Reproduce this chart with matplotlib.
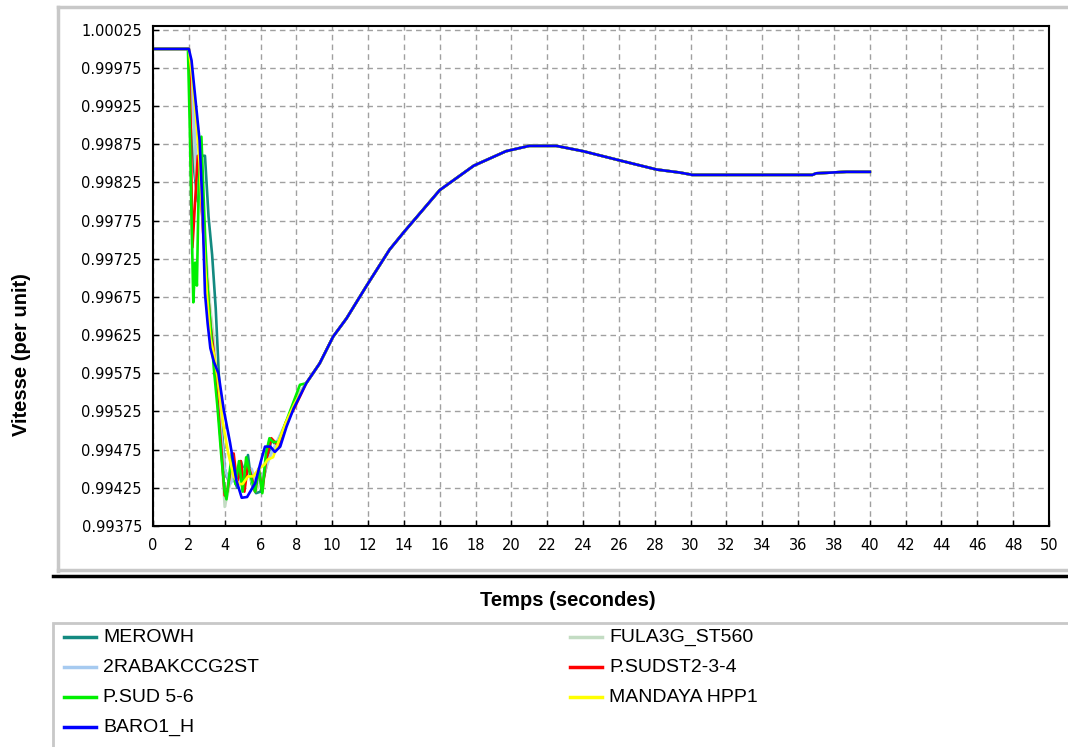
import matplotlib
matplotlib.use("Agg")
import matplotlib.pyplot as plt
from matplotlib.lines import Line2D
from matplotlib.patches import Rectangle

W, H = 1068, 747

# shared tail, all machines follow the same trajectory after ~8.5 s
tail_t = [8.55, 9.3, 10.05, 10.8, 11.9, 13.2, 14.0, 16.0, 17.9, 19.7, 21.0, 22.5, 24.0,
          26.2, 28.1, 29.4, 30.1, 33.0, 36.8, 37.0, 38.7, 40.0]
tail_v = [0.99562, 0.99588, 0.99623, 0.99647, 0.99689, 0.99737, 0.99760, 0.99815, 0.99847,
          0.99866, 0.99873, 0.99873, 0.99866, 0.99853, 0.99842, 0.99838, 0.99835, 0.99835,
          0.99835, 0.99837, 0.99839, 0.99839]

# first seconds of each machine
merowh_t = [0, 2.0, 2.1, 2.3, 2.5, 2.7, 2.9, 3.1, 3.3, 3.5, 3.7, 3.85, 4.0, 4.2, 4.45, 4.7,
            4.9, 5.1, 5.3, 5.5, 5.75, 6.0, 6.3, 6.6, 6.9, 7.4, 7.9]
merowh_v = [1.0, 1.0, 0.9993, 0.9984, 0.9980, 0.9986, 0.9986, 0.9978, 0.9973, 0.9966, 0.9956,
            0.9950, 0.9945, 0.99435, 0.9944, 0.99425, 0.9946, 0.99445, 0.99468, 0.9943,
            0.99418, 0.9942, 0.9945, 0.99488, 0.9948, 0.99505, 0.99535]

fula_t = [0, 2.0, 2.2, 2.4, 2.6, 2.8, 3.0, 3.2, 3.4, 3.6, 3.8, 4.0, 4.2, 4.5, 4.8, 5.1, 5.4,
          5.7, 6.0, 6.3, 6.6, 7.0, 7.4, 7.9]
fula_v = [1.0, 1.0, 0.9992, 0.9983, 0.9980, 0.9978, 0.9972, 0.9966, 0.9962, 0.9955, 0.9948,
          0.9940, 0.9942, 0.9945, 0.9943, 0.9945, 0.9944, 0.9942, 0.9943, 0.9945, 0.9947,
          0.9948, 0.9951, 0.99535]

rabak_t = [0, 2.0, 2.2, 2.4, 2.6, 2.8, 3.0, 3.2, 3.4, 3.6, 3.8, 4.0, 4.3, 4.6, 4.9, 5.2, 5.5,
           5.8, 6.1, 6.4, 6.8, 7.2, 7.6, 8.0]
rabak_v = [1.0, 1.0, 0.9994, 0.9986, 0.9982, 0.9977, 0.9970, 0.9964, 0.9960, 0.9956, 0.9950,
           0.9945, 0.9943, 0.9944, 0.9943, 0.9944, 0.9945, 0.9943, 0.9944, 0.9946, 0.9948,
           0.9950, 0.9952, 0.99545]

psudst_t = [0, 2.0, 2.1, 2.2, 2.35, 2.5, 2.65, 2.8, 3.0, 3.2, 3.4, 3.6, 3.8, 4.0, 4.15, 4.3,
            4.5, 4.7, 4.9, 5.1, 5.3, 5.5, 5.7, 5.9, 6.1, 6.3, 6.6, 7.0, 7.4, 7.9]
psudst_v = [1.0, 1.0, 0.9990, 0.9974, 0.9980, 0.9986, 0.9982, 0.9976, 0.9970, 0.9964, 0.9960,
            0.9954, 0.9948, 0.99415, 0.9942, 0.99445, 0.9947, 0.9943, 0.9946, 0.9942, 0.99455,
            0.9944, 0.9942, 0.9945, 0.9942, 0.9946, 0.9949, 0.9948, 0.9951, 0.9953]

psud56_t = [0, 1.95, 2.05, 2.15, 2.25, 2.35, 2.45, 2.55, 2.7, 2.85, 3.0, 3.2, 3.4, 3.6, 3.8,
            4.0, 4.1, 4.25, 4.4, 4.6, 4.8, 5.0, 5.2, 5.45, 5.7, 5.9, 6.1, 6.3, 6.5, 6.7, 7.0,
            7.4, 7.8, 8.2]
psud56_v = [1.0, 1.0, 0.9990, 0.9978, 0.99668, 0.9972, 0.9969, 0.9982, 0.99885, 0.9979,
            0.9970, 0.9964, 0.9958, 0.9953, 0.9947, 0.9942, 0.9941, 0.9944, 0.9947, 0.9943,
            0.9946, 0.9942, 0.99465, 0.9944, 0.9942, 0.9945, 0.99418, 0.9947, 0.9949, 0.99485,
            0.99485, 0.9951, 0.99535, 0.9956]

mandaya_t = [0, 2.0, 2.2, 2.4, 2.6, 2.8, 3.0, 3.2, 3.4, 3.6, 3.9, 4.2, 4.5, 4.8, 5.0, 5.3,
             5.6, 5.9, 6.2, 6.4, 6.7, 7.0, 7.4, 7.9]
mandaya_v = [1.0, 1.0, 0.9996, 0.9991, 0.9985, 0.9976, 0.9968, 0.9962, 0.9960, 0.9957, 0.9951,
             0.9947, 0.9944, 0.9943, 0.9943, 0.9944, 0.9944, 0.9945, 0.99455, 0.99462,
             0.99465, 0.99485, 0.9951, 0.99535]

baro_t = [0, 2.0, 2.15, 2.3, 2.45, 2.6, 2.75, 2.9, 3.05, 3.2, 3.4, 3.65, 3.95, 4.3, 4.65,
          4.95, 5.25, 5.7, 6.0, 6.25, 6.55, 6.8, 7.1, 7.45, 7.85]
baro_v = [1.0, 1.0, 0.99985, 0.9995, 0.99915, 0.9988, 0.9980, 0.9968, 0.9964, 0.99608,
          0.9959, 0.99575, 0.99527, 0.99484, 0.99435, 0.99412, 0.99413, 0.99431, 0.99458,
          0.99479, 0.99479, 0.99472, 0.99479, 0.99505, 0.99529]

names = ["MEROWH", "FULA3G_ST560", "2RABAKCCG2ST", "P.SUDST2-3-4", "P.SUD 5-6",
         "MANDAYA HPP1", "BARO1_H"]
colors = ["#138a80", "#c3dcc3", "#a6caf0", "#ff0000", "#00f000", "#ffff00", "#0000ff"]
heads = [(merowh_t, merowh_v), (fula_t, fula_v), (rabak_t, rabak_v), (psudst_t, psudst_v),
         (psud56_t, psud56_v), (mandaya_t, mandaya_v), (baro_t, baro_v)]

plt.rcParams['font.family'] = ['Liberation Sans', 'DejaVu Sans']

fig = plt.figure(figsize=(W / 100, H / 100), dpi=100)
fig.patch.set_facecolor("white")


def px(x, y):
    return x / W, 1 - y / H


# panel border (gray top/left, black bottom)
fig.add_artist(Line2D([px(58, 0)[0], px(W, 0)[0]], [px(0, 7)[1]] * 2, color="#c8c8c8", lw=2.5))
fig.add_artist(Line2D([px(58, 0)[0]] * 2, [px(0, 7)[1], px(0, 571)[1]], color="#c8c8c8", lw=2.5))
fig.add_artist(Line2D([px(58, 0)[0], px(W, 0)[0]], [px(0, 570)[1]] * 2, color="#c8c8c8", lw=2.5))
fig.add_artist(Line2D([px(53, 0)[0], px(W, 0)[0]], [px(0, 576)[1]] * 2, color="black", lw=2.5))

ax = fig.add_axes([153 / W, 1 - 526 / H, 896 / W, 500 / H])
for (t, v), c in zip(heads, colors):
    ax.plot(list(t) + tail_t, list(v) + tail_v, color=c, lw=1.9)

ax.set_xlim(0, 50)
ax.set_ylim(0.99375, 1.0003)
ax.set_xticks(range(0, 51, 2))
yt = [0.99375 + 0.0005 * i for i in range(14)]
ax.set_yticks(yt)
ax.set_yticklabels([f"{v:.5f}" for v in yt])
ax.tick_params(direction="in", length=4, width=1, labelsize=10.5, pad=8,
               labelfontfamily="DejaVu Sans", colors="black")
ax.tick_params(axis="x", pad=9)
ax.grid(True, color="#a0a0a0", ls=(0, (4, 3)), lw=1)
for s in ax.spines.values():
    s.set_linewidth(1.5)

fig.text(*px(568, 600), "Temps (secondes)", ha="center", va="center",
         fontsize=14.5, fontweight="bold")
fig.text(*px(22, 355), "Vitesse (per unit)", ha="center", va="center", rotation=90,
         fontsize=14.5, fontweight="bold")

# legend box
fig.add_artist(Rectangle(px(53, 760), (W - 40) / W, 137 / H, transform=fig.transFigure,
                         fill=False, edgecolor="#c8c8c8", lw=2))
order = [0, 2, 4, 6, 1, 3, 5]
for k, i in enumerate(order):
    col, row = (0, k) if k < 4 else (1, k - 4)
    x0 = 64 if col == 0 else 570
    y0 = 637 + 30 * row
    fig.add_artist(Line2D([px(x0, 0)[0], px(x0 + 32, 0)[0]], [px(0, y0)[1]] * 2,
                          color=colors[i], lw=2.5))
    fig.text(*px(x0 + 39, y0), names[i], ha="left", va="center", fontsize=14)

fig.savefig("out.png", dpi=100)
